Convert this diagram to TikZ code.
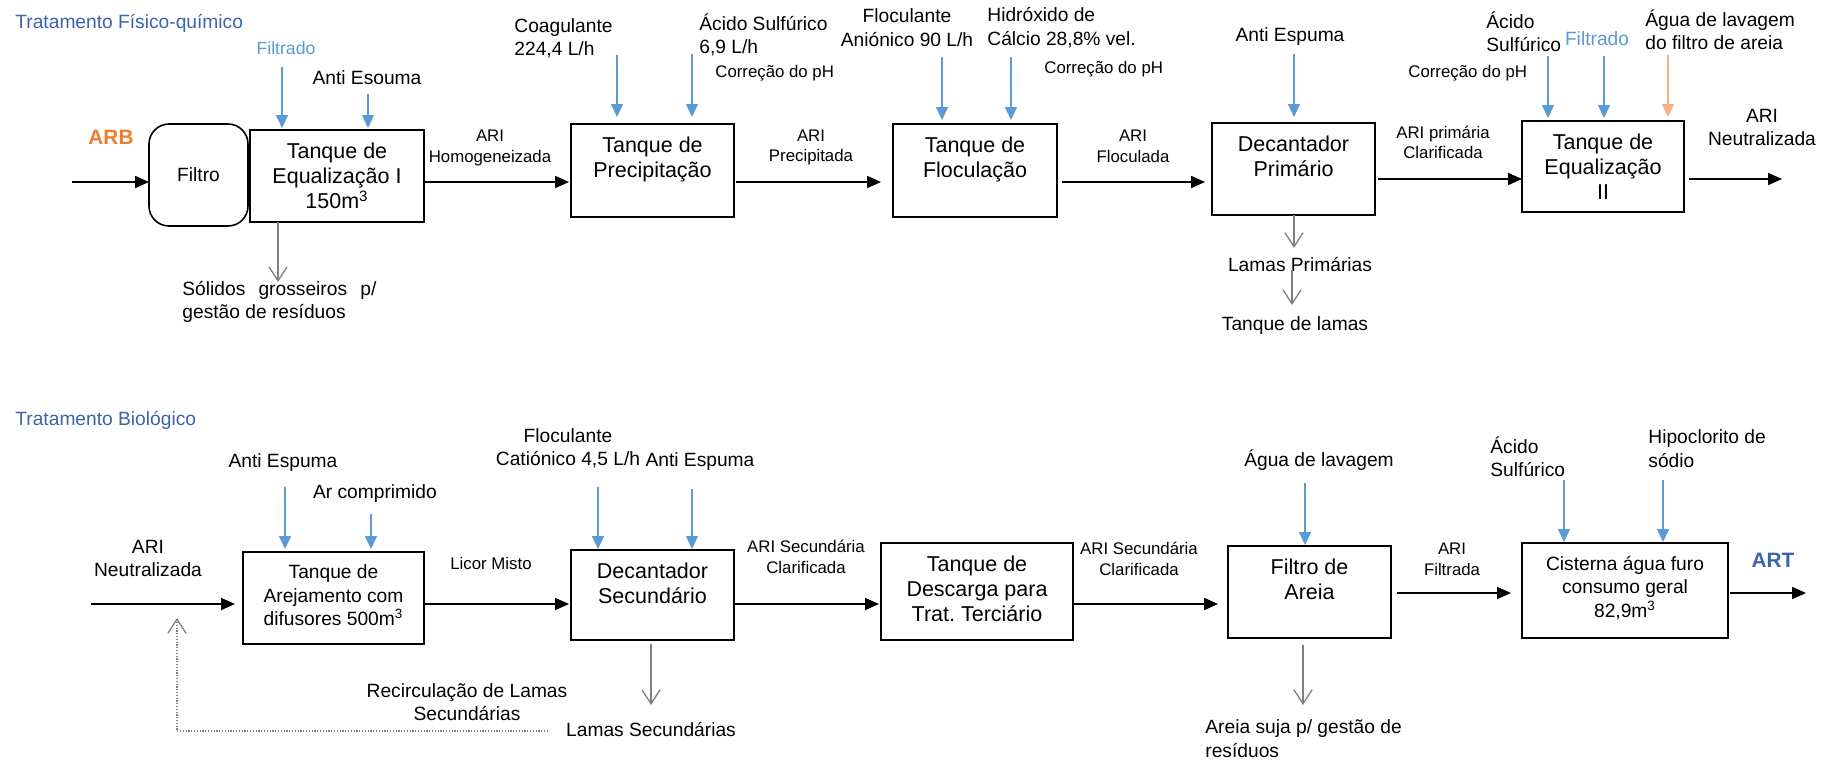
\documentclass[tikz,border=0pt]{standalone}
\usepackage{fontspec}
\setmainfont{Liberation Sans}
\usetikzlibrary{arrows.meta}
\definecolor{ttlblue}{RGB}{59,100,173}
\definecolor{ltblue}{RGB}{91,155,213}
\definecolor{arbor}{RGB}{237,125,49}
\definecolor{ltor}{RGB}{244,177,131}
\definecolor{grayln}{RGB}{128,128,128}
\newcommand\fsbox{\fontsize{10.75}{12.5}\selectfont}
\newcommand\fsbxs{\fontsize{9.6}{11.7}\selectfont}
\newcommand\fslab{\fontsize{9.6}{11.7}\selectfont}
\newcommand\fssml{\fontsize{8.4}{10.3}\selectfont}
\begin{document}
\begin{tikzpicture}[x=0.5pt,y=-0.5pt,
  procbox/.style={draw=black,line width=0.8pt,inner sep=0pt,outer sep=0pt},
  btext/.style={inner sep=0pt,align=center,font=\fsbox,anchor=north},
  lab/.style={inner sep=0pt,font=\fslab,align=center},
  labl/.style={inner sep=0pt,font=\fslab,align=left,anchor=west},
  sml/.style={inner sep=0pt,font=\fssml,align=center},
  flow/.style={-{Triangle[length=7pt,width=6pt]},line width=0.9pt},
  feed/.style={-{Triangle[length=6.5pt,width=6pt]},ltblue,line width=0.7pt},
  ofeed/.style={-{Triangle[length=6.5pt,width=6pt]},ltor,line width=0.7pt},
  outg/.style={-{Straight Barb[length=7pt,width=9pt]},grayln,line width=0.65pt},
  recirc/.style={-{Straight Barb[length=7pt,width=9pt]},grayln,line width=0.65pt,dash pattern=on 0.6pt off 0.8pt}]
\fill[white] (0,0) rectangle (1834,761);
\useasboundingbox (0,0) rectangle (1834,761);

% ================= TOP: Tratamento Fisico-quimico =================
\node[labl,text=ttlblue] (t1) at (15,23) {Tratamento Físico-químico};
\node[lab,text=ltblue,font=\fontsize{8.8}{10}\selectfont] (filt1) at (286,48) {Filtrado};
\node[lab] (anti1) at (367,78) {Anti Esouma};
\node[lab,text=arbor,font=\fontsize{10.4}{12}\selectfont\bfseries] (arb) at (111,137) {ARB};

\node[procbox,rounded corners=10pt,minimum width=49.5pt,minimum height=51pt,font=\fslab] (filtro) at (198.5,175) {Filtro};
\node[procbox,minimum width=87pt,minimum height=46pt] (teq1) at (337,176) {};
\node[btext] (teq1t) at ([yshift=-6.5pt]teq1.north) {Tanque de\\Equalização I\\150m\textsuperscript{3}};

\node[labl] (sol) at (182,302) {\makebox[97pt][s]{Sólidos grosseiros p/}\\gestão de resíduos};
\node[sml] (lh1) at (490,148) {ARI\\Homogeneizada};

\node[labl] (coag) at (514,38.5) {Coagulante\\224,4 L/h};
\node[labl] (acs1) at (699,35) {Ácido Sulfúrico\\6,9 L/h};
\node[sml,anchor=west] (cph1) at (715,73) {Correção do pH};
\node[procbox,minimum width=81.5pt,minimum height=46.5pt] (prec) at (652.5,170.5) {};
\node[btext] (prect) at ([yshift=-6.5pt]prec.north) {Tanque de\\Precipitação};
\node[sml] (lh2) at (811,147.5) {ARI\\Precipitada};

\node[lab] (flan) at (907,27.5) {Floculante\\Aniónico 90 L/h};
\node[labl] (hidr) at (987,27.5) {Hidróxido de\\Cálcio 28,8\% vel.};
\node[sml,anchor=west] (cph2) at (1044,69) {Correção do pH};
\node[procbox,minimum width=82pt,minimum height=46.5pt] (floc) at (975,170.5) {};
\node[btext] (floct) at ([yshift=-6.5pt]floc.north) {Tanque de\\Floculação};
\node[sml] (lh3) at (1133,146) {ARI\\Floculada};

\node[lab] (anti2) at (1290,37) {Anti Espuma};
\node[procbox,minimum width=81.5pt,minimum height=46pt] (dec) at (1293.5,169) {};
\node[btext] (dect) at ([yshift=-6.5pt]dec.north) {Decantador\\Primário};
\node[lab] (lprim) at (1300,265) {Lamas Primárias};
\node[lab] (tlam) at (1295,326) {Tanque de lamas};
\node[sml] (lh4) at (1443,142.5) {ARI primária\\Clarificada};

\node[sml,anchor=west] (cph3) at (1408,73) {Correção do pH};
\node[labl] (acs2) at (1486,31.5) {Ácido\\Sulfúrico};
\node[lab,text=ltblue] (filt2) at (1597,39) {Filtrado};
\node[labl] (agl1) at (1645,30) {Água de lavagem\\do filtro de areia};
\node[procbox,minimum width=81pt,minimum height=45.5pt] (teq2) at (1603,166.5) {};
\node[btext] (teq2t) at ([yshift=-6.5pt]teq2.north) {Tanque de\\Equalização\\II};
\node[lab] (arin1) at (1762,127.5) {ARI\\Neutralizada};

% top flow
\coordinate (inA) at (72,182);
\coordinate (inB) at (1378,179);
\coordinate (outA) at (1782,179);
\draw[flow] (inA) -- (inA -| filtro.west);
\draw[flow,shorten >=1pt] (teq1.east |- inA) -- (prec.west |- inA);
\draw[flow,shorten <=1pt,shorten >=6pt] (prec.east |- inA) -- (floc.west |- inA);
\draw[flow,shorten <=2.5pt,shorten >=3.5pt] (floc.east |- inA) -- (dec.west |- inA);
\draw[flow,shorten <=1.5pt] (dec.east |- inB) -- (teq2.west |- inB);
\draw[flow,shorten <=2.5pt] (teq2.east |- outA) -- (outA);

% top feeds
\coordinate (fa1) at (282,67);
\coordinate (fa2) at (368,94);
\coordinate (fa3) at (617,55);
\coordinate (fa4) at (692,54);
\coordinate (fa5) at (942,57);
\coordinate (fa6) at (1011,57);
\coordinate (fa7) at (1294,54);
\coordinate (fa8) at (1548,56);
\coordinate (fa9) at (1604,56);
\coordinate (fa10) at (1668,55);
\draw[feed,shorten >=1pt] (fa1) -- (fa1 |- teq1.north);
\draw[feed,shorten >=1pt] (fa2) -- (fa2 |- teq1.north);
\draw[feed,shorten >=3.5pt] (fa3) -- (fa3 |- prec.north);
\draw[feed,shorten >=3.5pt] (fa4) -- (fa4 |- prec.north);
\draw[feed,shorten >=2pt] (fa5) -- (fa5 |- floc.north);
\draw[feed,shorten >=2pt] (fa6) -- (fa6 |- floc.north);
\draw[feed,shorten >=3pt] (fa7) -- (fa7 |- dec.north);
\draw[feed,shorten >=1.5pt] (fa8) -- (fa8 |- teq2.north);
\draw[feed,shorten >=1.5pt] (fa9) -- (fa9 |- teq2.north);
\draw[ofeed,shorten >=2pt] (fa10) -- (fa10 |- teq2.north);

% top outgoing
\coordinate (ga1) at (278,282);
\coordinate (ga2) at (1294,248);
\coordinate (ga3a) at (1292,270);
\coordinate (ga3b) at (1292,305);
\draw[outg] (ga1 |- teq1.south) -- (ga1);
\draw[outg] (ga2 |- dec.south) -- (ga2);
\draw[outg] (ga3a) -- (ga3b);

% ================= BOTTOM: Tratamento Biologico =================
\node[labl,text=ttlblue] (t2) at (15,420) {Tratamento Biológico};
\node[lab] (anti3) at (283,463) {Anti Espuma};
\node[lab] (arc) at (375,494) {Ar comprimido};
\node[lab] (arin2) at (148,558.5) {ARI\\Neutralizada};
\node[procbox,minimum width=90.5pt,minimum height=46pt] (arej) at (333.5,598) {};
\node[btext,font=\fsbxs,yshift=0.3pt] (arejt) at ([yshift=-6.5pt]arej.north) {Tanque de\\Arejamento com\\difusores 500m\textsuperscript{3}};
\node[sml] (lmis) at (491,563) {Licor Misto};

\node[lab] (flca) at (568,448.5) {Floculante\\Catiónico 4,5 L/h};
\node[lab] (anti4) at (700,462) {Anti Espuma};
\node[procbox,minimum width=81.5pt,minimum height=45pt] (decs) at (652.5,595) {};
\node[btext] (decst) at ([yshift=-6.5pt]decs.north) {Decantador\\Secundário};
\node[lab] (recl) at (467,702) {Recirculação de Lamas\\Secundárias};
\node[lab] (lsec) at (651,730) {Lamas Secundárias};
\node[sml] (lh5) at (806,557) {ARI Secundária\\Clarificada};

\node[procbox,minimum width=96pt,minimum height=48.5pt] (desc) at (977,591.5) {};
\node[btext] (desct) at ([yshift=-6.5pt]desc.north) {Tanque de\\Descarga para\\Trat.\ Terciário};
\node[sml] (lh6) at (1139,559) {ARI Secundária\\Clarificada};

\node[lab] (agl2) at (1319,460) {Água de lavagem};
\node[procbox,minimum width=81.5pt,minimum height=46pt] (fare) at (1309.5,592) {};
\node[btext] (faret) at ([yshift=-6.5pt]fare.north) {Filtro de\\Areia};
\node[labl] (asuj) at (1205,738.5) {Areia suja p/ gestão de\\resíduos};
\node[sml] (lh7) at (1452,559) {ARI\\Filtrada};

\node[labl] (acs3) at (1490,456.5) {Ácido\\Sulfúrico};
\node[labl] (hipo) at (1648,448.5) {Hipoclorito de\\sódio};
\node[procbox,minimum width=103pt,minimum height=47.5pt] (cist) at (1625,590.5) {};
\node[btext,font=\fsbxs] (cistt) at ([yshift=-6.5pt]cist.north) {Cisterna água furo\\consumo geral\\82,9m\textsuperscript{3}};
\node[lab,text=ttlblue,font=\fontsize{10.4}{12}\selectfont\bfseries] (art) at (1773,560) {ART};

% bottom flow
\coordinate (inC) at (91,604);
\coordinate (inD) at (1397,593);
\coordinate (outB) at (1806,593);
\draw[flow,shorten >=4pt] (inC) -- (inC -| arej.west);
\draw[flow,shorten >=1pt] (arej.east |- inC) -- (decs.west |- inC);
\draw[flow,shorten >=1pt] (decs.east |- inC) -- (desc.west |- inC);
\draw[flow,shorten >=5pt] (desc.east |- inC) -- (fare.west |- inC);
\draw[flow,shorten <=3pt,shorten >=5.5pt] (fare.east |- inD) -- (cist.west |- inD);
\draw[flow,shorten <=1pt] (cist.east |- outB) -- (outB);

% bottom feeds
\coordinate (fb1) at (285,487);
\coordinate (fb2) at (371,514);
\coordinate (fb3) at (598,487);
\coordinate (fb4) at (692,489);
\coordinate (fb5) at (1305,483);
\coordinate (fb6) at (1564,480);
\coordinate (fb7) at (1663,480);
\draw[feed,shorten >=1.5pt] (fb1) -- (fb1 |- arej.north);
\draw[feed,shorten >=1.5pt] (fb2) -- (fb2 |- arej.north);
\draw[feed,shorten >=0.5pt] (fb3) -- (fb3 |- decs.north);
\draw[feed,shorten >=0.5pt] (fb4) -- (fb4 |- decs.north);
\draw[feed,shorten >=0.5pt] (fb5) -- (fb5 |- fare.north);
\draw[feed,shorten >=0.5pt] (fb6) -- (fb6 |- cist.north);
\draw[feed,shorten >=0.5pt] (fb7) -- (fb7 |- cist.north);

% bottom outgoing
\coordinate (gb1) at (651,705);
\coordinate (gb2) at (1303,705);
\draw[outg,shorten <=2pt] (gb1 |- decs.south) -- (gb1);
\draw[outg,shorten <=3.5pt] (gb2 |- fare.south) -- (gb2);

% recirculation
\coordinate (rc1) at (548,731);
\coordinate (rc2) at (177,618);
\draw[recirc] (rc1) -| (rc2);
\end{tikzpicture}
\end{document}
